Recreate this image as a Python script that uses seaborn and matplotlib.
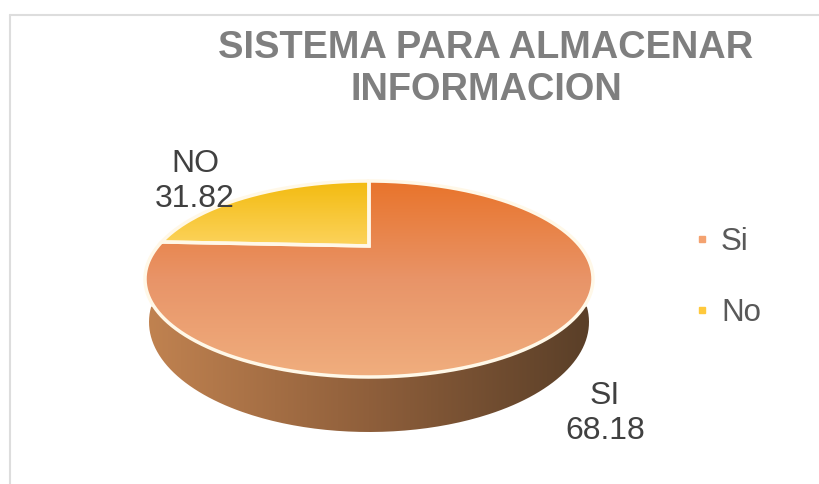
import numpy as np
import matplotlib
matplotlib.use('Agg')
import matplotlib.pyplot as plt
from matplotlib.lines import Line2D
from matplotlib.patches import PathPatch
from matplotlib.path import Path
import seaborn as sb

# data
categories = ['Si', 'No']
slice_labels = ['SI', 'NO']
label_values = ['68.18', '31.82']   # printed on the chart
drawn_shares = [75.75, 24.25]       # how big the slices look in the picture
title = 'SISTEMA PARA ALMACENAR\nINFORMACION'

sb.set_theme(style='white')
plt.rcParams['font.family'] = ['Liberation Sans', 'DejaVu Sans']

fig = plt.figure(figsize=(8.19, 4.84), dpi=100)
ax = fig.add_axes([0, 0, 1, 1])

wedges, _ = ax.pie(drawn_shares, startangle=90, counterclock=False)

# pie is tilted, perspective pushes its centre up
cx, cy, rx, ry = 369, 279, 224, 98
p = 0.337
k = np.sqrt(1 - p**2)


def tilt(verts):
    u, v = verts[:, 0], verts[:, 1]
    d = 1 + p * v
    return np.column_stack([cx + rx * k * u / d, cy - ry * (v + p) / d])


def gradient(colors, clip, horizontal=False):
    cmap = sb.blend_palette(colors, as_cmap=True)
    g = np.linspace(0, 1, 256)
    g = g[None, :] if horizontal else g[:, None]
    x0, y0 = clip.get_extents().min
    x1, y1 = clip.get_extents().max
    im = ax.imshow(g, cmap=cmap, extent=[x0, x1, y1, y0], aspect='auto', zorder=2)
    patch = PathPatch(clip, transform=ax.transData, fc='none', ec='none')
    ax.add_patch(patch)
    im.set_clip_path(patch)


# side wall
t = np.linspace(np.radians(-8), np.radians(188), 200)
wall = np.column_stack([cx + 220 * np.cos(t), 322 + 110 * np.sin(t)])
gradient(['#C08250', '#8F5F3B', '#5A3F28'], Path(wall), horizontal=True)

# top face, one gradient per slice
slice_grads = [['#E9742B', '#E89468', '#F0AE7E'], ['#F3BB10', '#FCD35C']]
steps = np.linspace(0, 1, 40)
for wedge, colors in zip(wedges, slice_grads):
    outline = wedge.get_patch_transform().transform_path(wedge.get_path())
    verts = np.vstack([seg(steps) for seg, code in outline.iter_bezier()])
    wedge.set_visible(False)
    shape = Path(tilt(verts))
    gradient(colors, shape)
    ax.add_patch(PathPatch(shape, fc='none', ec='#FFF8E8', lw=2.5, zorder=3))

# chart frame
ax.add_line(Line2D([10, 819], [15, 15], color='#DDDDDD', lw=1.5))
ax.add_line(Line2D([10, 10], [15, 484], color='#DDDDDD', lw=1.5))

ax.set_aspect('auto')
ax.set_xlim(0, 819)
ax.set_ylim(484, 0)
ax.axis('off')

ax.text(486, 69, title, ha='center', va='center', fontsize=27.4, fontweight='bold',
        color='#7F7F7F', linespacing=1.2)

label_pos = [(605, 413.5), (195, 181.5)]
for name, val, (x, y) in zip(slice_labels, label_values, label_pos):
    ax.text(x, y, name + '\n' + val, ha='center', va='center', fontsize=23,
            color='#404040', linespacing=1.25, zorder=5)

handles = [Line2D([], [], ls='', marker='s', ms=4.3, color=c) for c in ['#F4A270', '#FFC93C']]
ax.legend(handles, categories, loc='upper left', bbox_to_anchor=(693 / 819, 1 - 227 / 484),
          frameon=False, fontsize=22.5, labelcolor='#595959', labelspacing=1.3,
          handlelength=0.6, handletextpad=0.3, borderpad=0, borderaxespad=0)

fig.savefig('out.png', dpi=100)
